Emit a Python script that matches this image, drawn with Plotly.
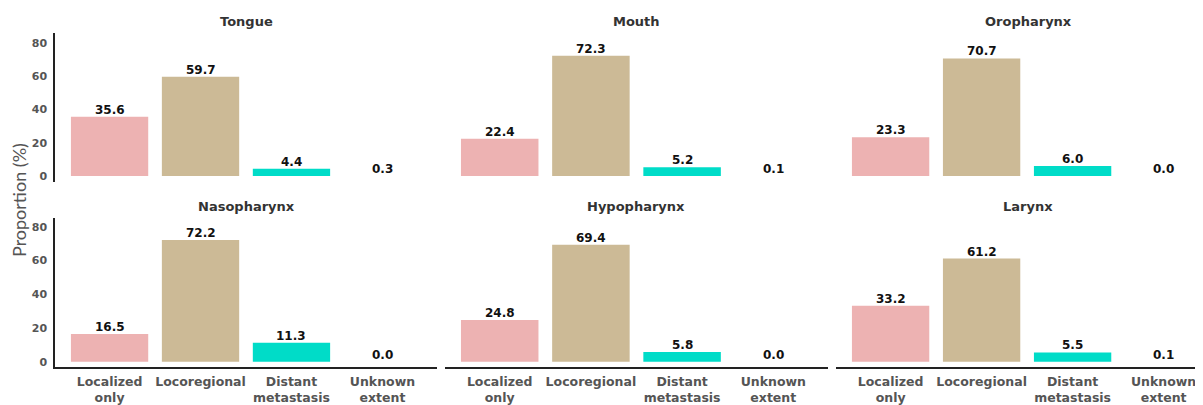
import plotly.graph_objects as go

categories = ["Localized<br>only", "Locoregional", "Distant<br>metastasis", "Unknown<br>extent"]
sites = ["Tongue", "Mouth", "Oropharynx", "Nasopharynx", "Hypopharynx", "Larynx"]
tongue = [35.6, 59.7, 4.4, 0.3]
mouth = [22.4, 72.3, 5.2, 0.1]
oropharynx = [23.3, 70.7, 6.0, 0.0]
nasopharynx = [16.5, 72.2, 11.3, 0.0]
hypopharynx = [24.8, 69.4, 5.8, 0.0]
larynx = [33.2, 61.2, 5.5, 0.1]
series = [tongue, mouth, oropharynx, nasopharynx, hypopharynx, larynx]
bar_colors = ["#EDB2B2", "#CCBA96", "#00DCC8", "#FFFFFF"]

# page has an 8px body margin; figure is sized to fill the rest of the window
OFF = 8
W, H = 1203 - OFF, 405 - OFF
FONT = "DejaVu Sans"
xpix = [(55, 437), (445, 828), (836, 1203)]
ypix = [(33, 182), (218, 367)]
xranges = [[-0.6, 3.6], [-0.6, 3.6], [-0.6, -0.6 + (1203 - 836) / 91.0]]
yranges = [[-3.6, 86.0], [-3.15, 85.3]]
title_cx = [246, 636, 1028]


def px_x(p):
    return (p - OFF) / W


def px_y(p):
    return (H - (p - OFF)) / H


fig = go.Figure()
layout = {}
for i, (name, vals) in enumerate(zip(sites, series)):
    r, c = divmod(i, 3)
    n = i + 1
    xa = "x" if n == 1 else f"x{n}"
    ya = "y" if n == 1 else f"y{n}"
    fig.add_trace(go.Bar(
        x=categories, y=vals, xaxis=xa, yaxis=ya,
        marker=dict(color=bar_colors, line=dict(width=0)),
        width=0.85, showlegend=False, hoverinfo="x+y",
    ))
    for cat, v in zip(categories, vals):
        fig.add_annotation(
            x=cat, y=v, xref=xa, yref=ya, text=f"<b>{v:.1f}</b>", showarrow=False,
            xanchor="center", yanchor="bottom", yshift=-2,
            font=dict(family=FONT, size=12, color="#111111"),
        )
    x0, x1 = xpix[c]
    y0, y1 = ypix[r]
    layout["xaxis" if n == 1 else f"xaxis{n}"] = dict(
        domain=[px_x(x0), min(px_x(x1), 1.0)], anchor=ya, range=xranges[c],
        showgrid=False, zeroline=False, ticks="", automargin=False,
        showline=(r == 1), linecolor="#222222", linewidth=1.5,
        showticklabels=(r == 1), ticklabelstandoff=2,
        tickfont=dict(family=FONT, size=12.5, color="#555555", weight="bold"),
    )
    layout["yaxis" if n == 1 else f"yaxis{n}"] = dict(
        domain=[px_y(y1), px_y(y0)], anchor=xa, range=yranges[r],
        showgrid=False, zeroline=False, ticks="", automargin=False,
        tickvals=[0, 20, 40, 60, 80],
        showline=(c == 0), linecolor="#222222", linewidth=1.5,
        showticklabels=(c == 0), ticklabelstandoff=4,
        tickfont=dict(family=FONT, size=11, color="#555555", weight="bold"),
    )
    fig.add_annotation(
        x=px_x(title_cx[c]), y=px_y(y0 - 11),
        xref="paper", yref="paper", text=f"<b>{name}</b>", showarrow=False,
        font=dict(family=FONT, size=13, color="#333333"), xanchor="center", yanchor="middle",
    )

fig.add_annotation(
    x=px_x(19), y=px_y(200), xref="paper", yref="paper", text="Proportion (%)",
    textangle=-90, showarrow=False, font=dict(family="Lato", size=18, color="#555555"),
    xanchor="center", yanchor="middle",
)

fig.update_layout(
    **layout,
    width=W, height=H, margin=dict(l=0, r=0, t=0, b=0, autoexpand=False),
    plot_bgcolor="white", paper_bgcolor="white",
)
fig.write_html("out.html")
